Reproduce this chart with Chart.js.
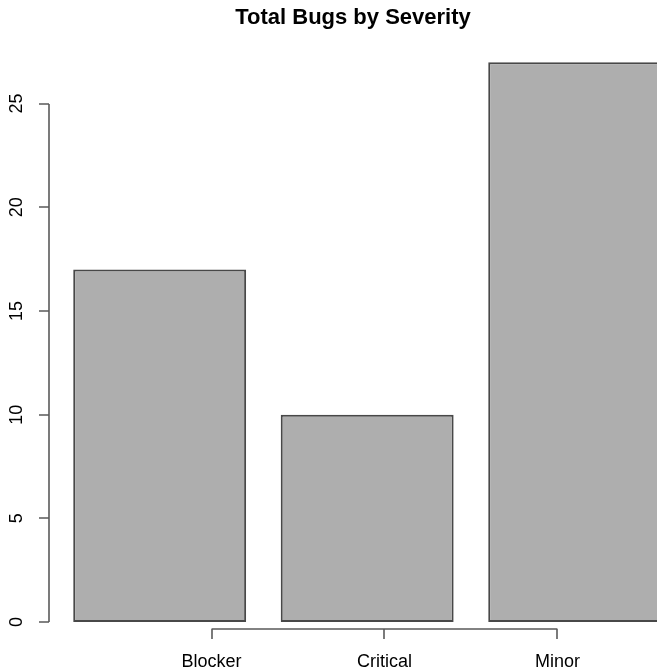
<!DOCTYPE html>
<html>
<head>
<meta charset="utf-8">
<script src="https://cdn.jsdelivr.net/npm/chart.js@4"></script>
<style>
  html, body { margin: 0; padding: 0; background: #fff; }
  #wrap { width: 657px; height: 670px; }
</style>
</head>
<body>
<div id="wrap"><canvas id="bugsChart"></canvas></div>
<script>
const categories = ['Blocker', 'Critical', 'Minor'];
const bugCounts = [17, 10, 27];
const yTickValues = [0, 5, 10, 15, 20, 25];
const xTickAt = [1, 2, 3];      // axis(1, at = 1:3) style, not aligned with bars
const barSpace = 0.2;           // R barplot default space between bars

const FONT = '"Liberation Sans", Arial, Helvetica, sans-serif';

// bar centres the way barplot places them
const barData = bugCounts.map((v, i) => ({ x: barSpace + 0.5 + i * (1 + barSpace), y: v }));

// draws the R-style base graphics axes from the chart scales
const rAxes = {
    id: 'rAxes',
    afterDraw(chart) {
        const ctx = chart.ctx;
        const xs = chart.scales.x;
        const ys = chart.scales.y;
        const left = Math.round(chart.chartArea.left);
        const zeroY = ys.getPixelForValue(0);
        const tickLen = 10;

        ctx.save();
        ctx.strokeStyle = '#5a5a5a';
        ctx.lineWidth = 1.6;
        ctx.fillStyle = '#000';
        ctx.font = '18px ' + FONT;

        // y axis
        const topY = ys.getPixelForValue(yTickValues[yTickValues.length - 1]);
        ctx.beginPath();
        ctx.moveTo(left, Math.round(zeroY));
        ctx.lineTo(left, Math.round(topY));
        yTickValues.forEach(v => {
            const py = Math.round(ys.getPixelForValue(v));
            ctx.moveTo(left, py);
            ctx.lineTo(left - tickLen, py);
        });
        ctx.stroke();
        ctx.textAlign = 'center';
        ctx.textBaseline = 'middle';
        yTickValues.forEach(v => {
            const py = ys.getPixelForValue(v);
            ctx.save();
            ctx.translate(17, py);
            ctx.rotate(-Math.PI / 2);
            ctx.fillText(String(v), 0, 0);
            ctx.restore();
        });

        // x axis
        const axisY = Math.round(zeroY) + 7;
        ctx.beginPath();
        ctx.moveTo(xs.getPixelForValue(xTickAt[0]), axisY);
        ctx.lineTo(xs.getPixelForValue(xTickAt[xTickAt.length - 1]), axisY);
        xTickAt.forEach(v => {
            const px = Math.round(xs.getPixelForValue(v));
            ctx.moveTo(px, axisY);
            ctx.lineTo(px, axisY + tickLen);
        });
        ctx.stroke();
        ctx.textBaseline = 'middle';
        xTickAt.forEach((v, i) => {
            ctx.fillText(categories[i], xs.getPixelForValue(v), zeroY + 40);
        });
        ctx.restore();
    }
};

new Chart(document.getElementById('bugsChart'), {
    type: 'bar',
    data: {
        datasets: [{
            label: 'Total Bugs',
            data: barData,
            backgroundColor: '#aeaeae',
            borderColor: '#484848',
            borderWidth: 2,
            borderSkipped: false,
            categoryPercentage: 1,
            barPercentage: 1 / (1 + barSpace)
        }]
    },
    options: {
        responsive: true,
        maintainAspectRatio: false,
        animation: false,
        layout: { padding: { left: 49, right: 0, top: 0, bottom: 48 } },
        plugins: {
            legend: { display: false },
            tooltip: { enabled: false },
            title: {
                display: true,
                text: 'Total Bugs by Severity',
                color: '#000',
                font: { family: FONT, size: 22, weight: 'bold', lineHeight: 1.2 },
                padding: { top: 5, bottom: 10 }
            }
        },
        scales: {
            x: {
                type: 'linear', min: 0.06, max: 3.576, offset: false, display: false,
                ticks: { stepSize: 10 }
            },
            y: { type: 'linear', min: 0, max: 28, display: false }
        }
    },
    plugins: [rAxes]
});
</script>
</body>
</html>
